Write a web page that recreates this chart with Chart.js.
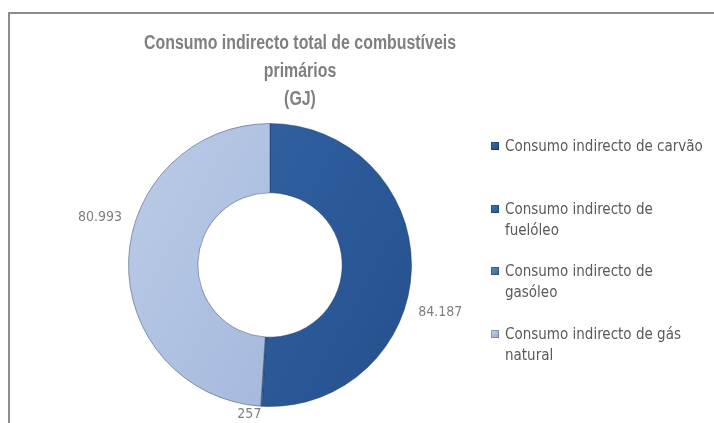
<!DOCTYPE html>
<html lang="pt">
  <head>
    <meta charset="UTF-8" />
    <title>Consumo indirecto total de combustíveis primários</title>
    <script src="https://cdn.jsdelivr.net/npm/chart.js"></script>
    <style>
      html, body {
        margin: 0;
        padding: 0;
        background: #fff;
        overflow: hidden;
      }
      body {
        width: 714px;
        height: 423px;
        position: relative;
        font-family: "Liberation Sans Narrow", "DejaVu Sans Condensed", "Open Sans", sans-serif;
      }
      .frame {
        position: absolute;
        left: 8px;
        top: 12px;
        width: 720px;
        height: 420px;
        border-top: 2px solid #8c8c8c;
        border-left: 2px solid #8c8c8c;
      }
      .chart-box {
        position: absolute;
        left: 10px;
        top: 14px;
        width: 580px;
        height: 409px;
      }
      #legend {
        position: absolute;
        left: 490px;
        top: 136px;
        margin: 0;
        padding: 0;
        list-style: none;
        color: #595959;
        font-size: 15px;
        line-height: 21px;
      }
      #legend li {
        position: relative;
        height: 62.5px;
        padding-left: 15px;
        width: 200px;
      }
      #legend .box {
        position: absolute;
        left: 1px;
        top: 6px;
        width: 8px;
        height: 8px;
        box-shadow: inset 0 0 0 1px rgba(0, 0, 0, 0.25);
      }
    </style>
  </head>
  <body>
    <div class="frame"></div>
    <div class="chart-box"><canvas id="donut"></canvas></div>
    <ul id="legend"></ul>

    <script>
      const categories = [
        "Consumo indirecto de carvão",
        "Consumo indirecto de fuelóleo",
        "Consumo indirecto de gasóleo",
        "Consumo indirecto de gás natural"
      ];
      const values = [84187, 0, 257, 80993];
      const titleLines = ["Consumo indirecto total de combustíveis", "primários", "(GJ)"];

      const colors = ["#2b5c9d", "#2f66b1", "#4a78bb", "#a9bddf"];
      const gradStops = [
        ["#3a6db1", "#204a85"],
        ["#3a74c0", "#255596"],
        ["#5a88c8", "#3a66a6"],
        ["#c4d3ec", "#93a9d2"]
      ];

      function fmt(n) {
        return String(n).replace(/\B(?=(\d{3})+(?!\d))/g, ".");
      }

      function sliceFill(ctx) {
        const chart = ctx.chart;
        const area = chart.chartArea;
        if (!area) return colors[ctx.dataIndex];
        const s = gradStops[ctx.dataIndex];
        const g = chart.ctx.createLinearGradient(area.left, area.top, area.right, area.bottom);
        g.addColorStop(0, s[0]);
        g.addColorStop(1, s[1]);
        return g;
      }

      // title drawn squeezed to the width of the original (its font is narrower than ours)
      const narrowTitle = {
        id: "narrowTitle",
        afterDraw(chart, args, opts) {
          const ctx = chart.ctx;
          const cx = chart.width / 2;
          ctx.save();
          ctx.font = opts.font;
          ctx.fillStyle = opts.color;
          ctx.textAlign = "center";
          ctx.textBaseline = "middle";
          const w = ctx.measureText(opts.lines[0]).width;
          const sx = Math.min(1, opts.width / w);
          opts.lines.forEach((line, i) => {
            ctx.save();
            ctx.translate(cx, opts.top + i * opts.lineHeight);
            ctx.scale(sx, 1);
            ctx.fillText(line, 0, 0);
            ctx.restore();
          });
          ctx.restore();
        }
      };

      // value labels outside the ring, roughly like Excel "best fit"
      const outsideLabels = {
        id: "outsideLabels",
        afterDatasetsDraw(chart, args, opts) {
          const ctx = chart.ctx;
          const meta = chart.getDatasetMeta(0);
          ctx.save();
          ctx.font = opts.font;
          ctx.fillStyle = opts.color;
          meta.data.forEach((arc, i) => {
            const v = chart.data.datasets[0].data[i];
            if (!v) return;
            const p = arc.getProps(["x", "y", "startAngle", "endAngle", "outerRadius"], true);
            const a = (p.startAngle + p.endAngle) / 2 + (opts.shift[i] || 0) * Math.PI / 180;
            const r = p.outerRadius + opts.gap[i];
            const x = p.x + Math.cos(a) * r;
            const y = p.y + Math.sin(a) * r;
            const c = Math.cos(a);
            ctx.textAlign = Math.abs(c) < 0.2 ? "center" : (c > 0 ? "left" : "right");
            ctx.textBaseline = "middle";
            ctx.fillText(fmt(v), x, y);
          });
          ctx.restore();
        }
      };

      const chart = new Chart(document.getElementById("donut"), {
        type: "doughnut",
        data: {
          labels: categories,
          datasets: [{
            data: values,
            backgroundColor: sliceFill,
            borderColor: "rgba(30, 50, 90, 0.45)",
            borderWidth: 1
          }]
        },
        options: {
          responsive: true,
          maintainAspectRatio: false,
          animation: false,
          cutout: "51%",
          layout: {
            padding: { left: 0, right: 60, top: 109, bottom: 16 }
          },
          plugins: {
            legend: { display: false },
            tooltip: { enabled: false },
            title: { display: false },
            narrowTitle: {
              lines: titleLines,
              font: "bold 20px 'Liberation Sans', 'Open Sans', sans-serif",
              color: "#7f7f7f",
              top: 29,
              lineHeight: 28,
              width: 312
            },
            outsideLabels: {
              font: "14px 'Liberation Sans Narrow', 'DejaVu Sans Condensed', 'Open Sans', sans-serif",
              color: "#7f7f7f",
              gap: [14, 14, 9, 14],
              shift: [16, 0, 4.4, 16]
            }
          }
        },
        plugins: [outsideLabels, narrowTitle]
      });

      // html legend built from the chart data
      const legendEl = document.getElementById("legend");
      chart.data.labels.forEach((lab, i) => {
        const li = document.createElement("li");
        const box = document.createElement("span");
        box.className = "box";
        box.style.background = "linear-gradient(135deg, " + gradStops[i][0] + ", " + gradStops[i][1] + ")";
        li.appendChild(box);
        li.appendChild(document.createTextNode(lab));
        legendEl.appendChild(li);
      });
    </script>
  </body>
</html>
